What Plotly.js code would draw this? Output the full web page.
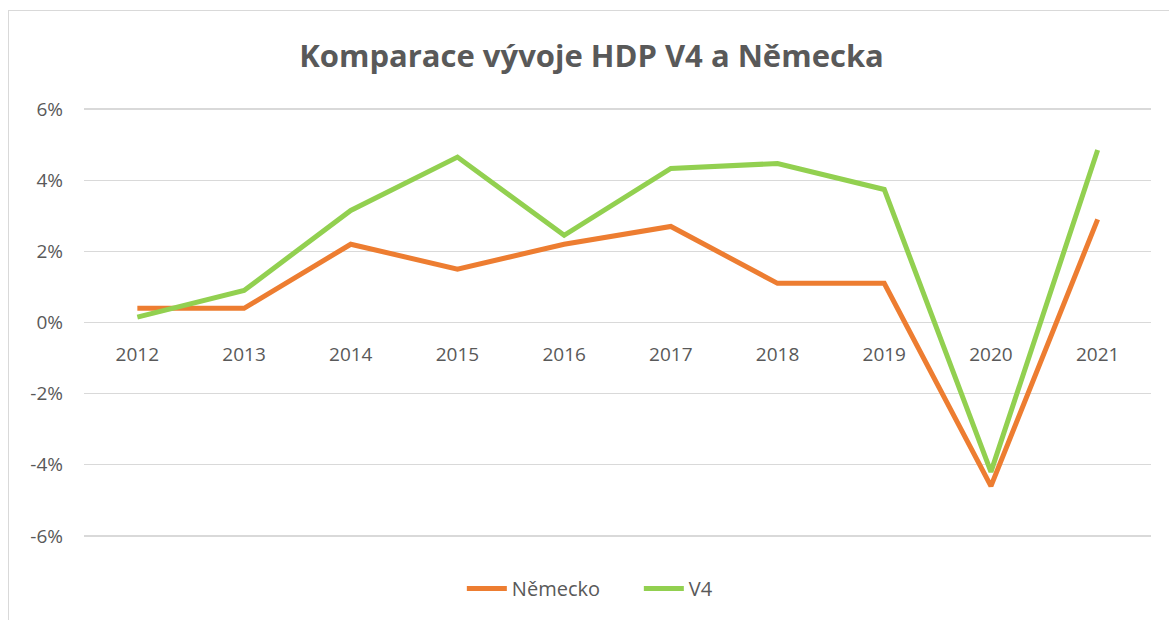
<!DOCTYPE html>
<html>
<head>
<meta charset="utf-8">
<script src="https://cdn.plot.ly/plotly-3.0.1.min.js"></script>
<style>
  html, body { margin: 0; padding: 0; background: #fff; overflow: hidden; }
  #chart { position: absolute; left: 0; top: 0; width: 1169px; height: 620px; }
  #frame { position: absolute; left: 8px; top: 10px; width: 1300px; height: 700px; border: 1px solid #d9d9d9; pointer-events: none; }
</style>
</head>
<body>
<div id="chart"></div>
<div id="frame"></div>
<script>
const years = ["2012", "2013", "2014", "2015", "2016", "2017", "2018", "2019", "2020", "2021"];
const nemecko = [0.4, 0.4, 2.2, 1.5, 2.2, 2.7, 1.1, 1.1, -4.6, 2.9];
const v4 = [0.15, 0.9, 3.15, 4.65, 2.45, 4.33, 4.47, 3.74, -4.2, 4.85];
const yTicks = [-6, -4, -2, 0, 2, 4, 6];
const yTickText = ["-6%", "-4%", "-2%", "0%", "2%", "4%", "6%"];

const FONT = "Open Sans, Noto Sans, sans-serif";
const GREY = "#595959";

const traces = [
  { x: years, y: nemecko, name: "Německo", type: "scatter", mode: "lines",
    line: { color: "#ED7D31", width: 5 } },
  { x: years, y: v4, name: "V4", type: "scatter", mode: "lines",
    line: { color: "#92D050", width: 5 } }
];

const layout = {
  width: 1169, height: 620,
  margin: { l: 84, r: 18, t: 108, b: 83 },
  paper_bgcolor: "#ffffff", plot_bgcolor: "#ffffff",
  font: { family: FONT, color: GREY, size: 19 },
  title: { text: "<b>Komparace vývoje HDP V4 a Německa</b>",
    font: { family: FONT, size: 31, color: GREY },
    x: 0.506, xanchor: "center", y: 0.91, yanchor: "middle", yref: "container" },
  xaxis: { type: "category", range: [-0.5, 9.5], showgrid: false, showline: false,
    zeroline: false, ticks: "", anchor: "free", position: 0.5,
    ticklabelstandoff: 18, tickfont: { size: 19, color: GREY, family: FONT } },
  yaxis: { range: [-6.03, 6.03], tickvals: yTicks, ticktext: yTickText,
    showgrid: true, gridcolor: "#d9d9d9", gridwidth: 1.3, zeroline: false,
    showline: false, ticks: "", ticklabelstandoff: 20,
    tickfont: { size: 19, color: GREY, family: FONT } },
  showlegend: true,
  legend: { orientation: "h", x: 0.52, xanchor: "center", y: -0.12, yanchor: "middle",
    font: { size: 20, color: GREY, family: FONT }, itemwidth: 40,
    entrywidth: 122, entrywidthmode: "pixels", traceorder: "normal" }
};

Plotly.newPlot("chart", traces, layout, { staticPlot: true, displayModeBar: false });
</script>
</body>
</html>
